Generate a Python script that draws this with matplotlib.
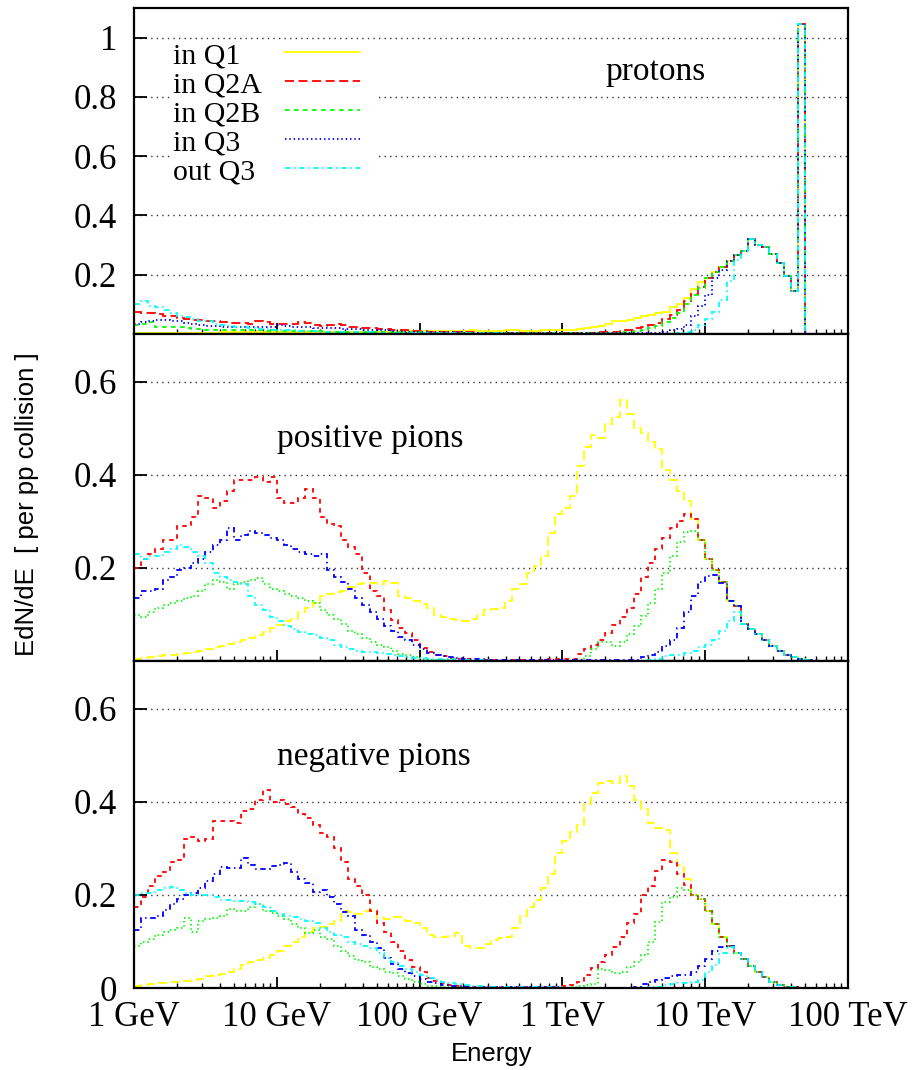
import numpy as np
import matplotlib
matplotlib.use("Agg")
import matplotlib.pyplot as plt
from matplotlib.ticker import FixedLocator, LogLocator, NullFormatter
from matplotlib.patches import Rectangle

plt.rcParams['font.family'] = ['Liberation Serif', 'DejaVu Serif']

# Energy binning: 20 bins per decade from 1 GeV to 100 TeV (values in GeV)
bin_edges = 10 ** (np.arange(101) * 0.05)

series_labels = ['in Q1', 'in Q2A', 'in Q2B', 'in Q3', 'out Q3']
series_colors = ['#ffff00', '#ff0000', '#00ff00', '#0000ff', '#00ffff']

energy_ticks = [1, 10, 100, 1e3, 1e4, 1e5]
energy_labels = ['1 GeV', '10 GeV', '100 GeV', '1 TeV', '10 TeV', '100 TeV']

# ---------------- protons ----------------
# bins 85..93 are shared by all five series (93 = beam energy spike)
protons_tail = [0.280, 0.320, 0.300, 0.295, 0.270, 0.240, 0.195, 0.145, 1.045]

protons_q1 = [
    0.003, 0.003, 0.003, 0.003, 0.003, 0.003, 0.004, 0.004, 0.004, 0.004,
    0.004, 0.004, 0.005, 0.005, 0.005, 0.005, 0.005, 0.005, 0.005, 0.005,
    0.005, 0.005, 0.005, 0.005, 0.006, 0.006, 0.006, 0.006, 0.006, 0.006,
    0.006, 0.007, 0.007, 0.007, 0.007, 0.008, 0.008, 0.009, 0.009, 0.010,
    0.010, 0.010, 0.011, 0.010, 0.011, 0.010, 0.011, 0.012, 0.010, 0.011,
    0.010, 0.011, 0.012, 0.013, 0.010, 0.011, 0.010, 0.012, 0.012, 0.013,
    0.013, 0.014, 0.016, 0.020, 0.022, 0.028, 0.035, 0.042, 0.045, 0.048,
    0.055, 0.060, 0.065, 0.070, 0.075, 0.090, 0.100, 0.120, 0.150, 0.175,
    0.190, 0.210, 0.225, 0.245, 0.265] + protons_tail
protons_q2a = [
    0.075, 0.072, 0.070, 0.066, 0.062, 0.060, 0.055, 0.052, 0.048, 0.046,
    0.044, 0.042, 0.040, 0.037, 0.036, 0.038, 0.035, 0.042, 0.040, 0.034,
    0.033, 0.035, 0.033, 0.040, 0.036, 0.030, 0.028, 0.030, 0.032, 0.030,
    0.022, 0.022, 0.020, 0.020, 0.018, 0.016, 0.015, 0.014, 0.012, 0.010,
    0.010, 0.008, 0.008, 0.007, 0.006, 0.005, 0.005, 0.005, 0.004, 0.004,
    0.004, 0.004, 0.004, 0.004, 0.003, 0.003, 0.003, 0.003, 0.003, 0.003,
    0.003, 0.003, 0.003, 0.003, 0.004, 0.005, 0.007, 0.008, 0.012, 0.015,
    0.020, 0.025, 0.030, 0.038, 0.050, 0.065, 0.080, 0.110, 0.135, 0.160,
    0.190, 0.210, 0.225, 0.245, 0.265] + protons_tail
protons_q2b = [
    0.030, 0.035, 0.040, 0.025, 0.022, 0.025, 0.024, 0.020, 0.018, 0.016,
    0.014, 0.013, 0.014, 0.013, 0.012, 0.013, 0.012, 0.012, 0.011, 0.012,
    0.011, 0.010, 0.010, 0.010, 0.009, 0.009, 0.009, 0.008, 0.008, 0.008,
    0.008, 0.007, 0.007, 0.007, 0.006, 0.006, 0.006, 0.006, 0.005, 0.005,
    0.005, 0.004, 0.004, 0.004, 0.004, 0.003, 0.003, 0.003, 0.003, 0.003,
    0.003, 0.002, 0.002, 0.002, 0.002, 0.002, 0.002, 0.002, 0.002, 0.002,
    0.002, 0.002, 0.002, 0.002, 0.002, 0.002, 0.003, 0.004, 0.006, 0.008,
    0.010, 0.015, 0.020, 0.028, 0.040, 0.055, 0.070, 0.100, 0.130, 0.155,
    0.190, 0.210, 0.225, 0.245, 0.265] + protons_tail
protons_q3 = [
    0.035, 0.040, 0.045, 0.046, 0.047, 0.045, 0.042, 0.038, 0.034, 0.030,
    0.028, 0.026, 0.024, 0.022, 0.024, 0.025, 0.023, 0.022, 0.022, 0.025,
    0.030, 0.028, 0.025, 0.024, 0.022, 0.020, 0.020, 0.020, 0.019, 0.018,
    0.016, 0.016, 0.015, 0.014, 0.012, 0.012, 0.011, 0.010, 0.008, 0.007,
    0.006, 0.006, 0.005, 0.005, 0.005, 0.005, 0.004, 0.004, 0.003, 0.003,
    0.003, 0.002, 0.002, 0.002, 0.002, 0.002, 0.002, 0.002, 0.002, 0.002,
    0.002, 0.002, 0.002, 0.002, 0.002, 0.002, 0.002, 0.002, 0.002, 0.002,
    0.002, 0.002, 0.002, 0.004, 0.008, 0.012, 0.018, 0.030, 0.060, 0.095,
    0.130, 0.190, 0.215, 0.245, 0.265] + protons_tail
protons_out_q3 = [
    0.100, 0.110, 0.095, 0.090, 0.080, 0.070, 0.062, 0.058, 0.050, 0.045,
    0.042, 0.035, 0.030, 0.028, 0.025, 0.022, 0.020, 0.018, 0.016, 0.015,
    0.013, 0.012, 0.012, 0.010, 0.010, 0.009, 0.008, 0.007, 0.006, 0.006,
    0.005, 0.005, 0.005, 0.005, 0.004, 0.004, 0.004, 0.004, 0.003, 0.003,
    0.003, 0.003, 0.002, 0.002, 0.002, 0.002, 0.002, 0.002, 0.002, 0.002,
    0.002, 0.001, 0.001, 0.001, 0.001, 0.001, 0.001, 0.001, 0.001, 0.001,
    0.001, 0.001, 0.001, 0.001, 0.001, 0.001, 0.001, 0.001, 0.001, 0.001,
    0.001, 0.001, 0.001, 0.001, 0.001, 0.001, 0.003, 0.006, 0.015, 0.030,
    0.050, 0.075, 0.115, 0.180, 0.250] + protons_tail

# ---------------- positive pions ----------------
# bins 79..94: all series coincide at the highest energies
pos_tail = [0.260, 0.220, 0.195, 0.170, 0.130, 0.118, 0.080, 0.068,
            0.058, 0.045, 0.032, 0.022, 0.014, 0.008, 0.004, 0.002]

pos_q1 = [
    0.004, 0.006, 0.008, 0.010, 0.012, 0.013, 0.016, 0.018, 0.020, 0.022,
    0.025, 0.030, 0.032, 0.036, 0.042, 0.045, 0.050, 0.055, 0.063, 0.070,
    0.077, 0.085, 0.090, 0.105, 0.115, 0.125, 0.140, 0.145, 0.148, 0.150,
    0.160, 0.165, 0.168, 0.167, 0.165, 0.172, 0.168, 0.140, 0.135, 0.128,
    0.122, 0.115, 0.100, 0.095, 0.090, 0.088, 0.086, 0.090, 0.100, 0.110,
    0.112, 0.113, 0.130, 0.155, 0.165, 0.190, 0.205, 0.225, 0.275, 0.315,
    0.330, 0.355, 0.420, 0.460, 0.485, 0.480, 0.510, 0.525, 0.560, 0.530,
    0.500, 0.490, 0.470, 0.455, 0.410, 0.390, 0.365, 0.345, 0.305] + pos_tail
pos_q2a = [
    0.200, 0.220, 0.230, 0.240, 0.260, 0.260, 0.290, 0.290, 0.310, 0.355,
    0.350, 0.330, 0.345, 0.366, 0.390, 0.390, 0.390, 0.395, 0.385, 0.395,
    0.350, 0.340, 0.340, 0.350, 0.370, 0.350, 0.310, 0.295, 0.290, 0.260,
    0.245, 0.230, 0.190, 0.150, 0.140, 0.110, 0.088, 0.070, 0.060, 0.045,
    0.027, 0.020, 0.013, 0.010, 0.007, 0.005, 0.004, 0.004, 0.003, 0.003,
    0.003, 0.002, 0.002, 0.002, 0.002, 0.002, 0.003, 0.003, 0.004, 0.004,
    0.004, 0.005, 0.015, 0.025, 0.035, 0.045, 0.060, 0.078, 0.095, 0.115,
    0.145, 0.180, 0.210, 0.240, 0.265, 0.285, 0.300, 0.315, 0.305] + pos_tail
pos_q2b = [
    0.100, 0.095, 0.105, 0.115, 0.120, 0.125, 0.130, 0.135, 0.140, 0.150,
    0.165, 0.175, 0.170, 0.155, 0.165, 0.170, 0.175, 0.178, 0.165, 0.155,
    0.150, 0.145, 0.140, 0.135, 0.130, 0.125, 0.110, 0.100, 0.090, 0.080,
    0.065, 0.058, 0.050, 0.042, 0.035, 0.030, 0.022, 0.015, 0.012, 0.008,
    0.005, 0.003, 0.002, 0.002, 0.002, 0.001, 0.001, 0.001, 0.001, 0.001,
    0.001, 0.001, 0.001, 0.001, 0.001, 0.001, 0.001, 0.001, 0.001, 0.001,
    0.001, 0.001, 0.003, 0.010, 0.025, 0.040, 0.040, 0.032, 0.040, 0.058,
    0.075, 0.097, 0.125, 0.155, 0.190, 0.225, 0.255, 0.278, 0.280] + pos_tail
pos_q3 = [
    0.135, 0.150, 0.150, 0.155, 0.175, 0.180, 0.195, 0.200, 0.210, 0.220,
    0.235, 0.250, 0.260, 0.285, 0.260, 0.270, 0.280, 0.275, 0.270, 0.265,
    0.260, 0.250, 0.240, 0.235, 0.230, 0.225, 0.230, 0.195, 0.180, 0.170,
    0.155, 0.135, 0.120, 0.105, 0.090, 0.075, 0.065, 0.052, 0.045, 0.035,
    0.025, 0.018, 0.012, 0.010, 0.008, 0.006, 0.005, 0.004, 0.004, 0.003,
    0.003, 0.003, 0.002, 0.002, 0.002, 0.002, 0.002, 0.002, 0.002, 0.002,
    0.002, 0.002, 0.002, 0.002, 0.002, 0.002, 0.002, 0.002, 0.002, 0.002,
    0.003, 0.008, 0.013, 0.020, 0.032, 0.045, 0.072, 0.105, 0.140, 0.170,
    0.183, 0.185, 0.168] + pos_tail[4:]
pos_out_q3 = [
    0.230, 0.220, 0.225, 0.225, 0.235, 0.240, 0.250, 0.245, 0.235, 0.225,
    0.210, 0.190, 0.180, 0.175, 0.170, 0.165, 0.140, 0.120, 0.110, 0.095,
    0.085, 0.075, 0.068, 0.063, 0.058, 0.055, 0.050, 0.045, 0.035, 0.030,
    0.025, 0.022, 0.020, 0.020, 0.018, 0.015, 0.012, 0.010, 0.008, 0.007,
    0.006, 0.005, 0.005, 0.004, 0.004, 0.003, 0.003, 0.002, 0.002, 0.002,
    0.001, 0.001, 0.001, 0.001, 0.001, 0.001, 0.001, 0.001, 0.001, 0.001,
    0.001, 0.001, 0.001, 0.001, 0.001, 0.001, 0.001, 0.001, 0.001, 0.001,
    0.001, 0.001, 0.002, 0.004, 0.010, 0.012, 0.013, 0.018, 0.022, 0.030,
    0.035, 0.045, 0.065, 0.085, 0.105] + pos_tail[6:]

# ---------------- negative pions ----------------
# bins 78..93 shared by all series
neg_tail = [0.200, 0.192, 0.165, 0.138, 0.110, 0.090, 0.075, 0.062,
            0.048, 0.035, 0.024, 0.012, 0.006, 0.003, 0.002, 0.001]

neg_q1 = [
    0.005, 0.006, 0.008, 0.010, 0.010, 0.012, 0.014, 0.015, 0.018, 0.020,
    0.025, 0.028, 0.030, 0.035, 0.040, 0.050, 0.055, 0.060, 0.065, 0.070,
    0.080, 0.090, 0.100, 0.110, 0.120, 0.128, 0.132, 0.138, 0.145, 0.165,
    0.163, 0.160, 0.165, 0.168, 0.150, 0.148, 0.152, 0.153, 0.145, 0.140,
    0.130, 0.115, 0.110, 0.110, 0.112, 0.118, 0.090, 0.087, 0.085, 0.095,
    0.103, 0.107, 0.110, 0.130, 0.155, 0.175, 0.190, 0.215, 0.245, 0.290,
    0.315, 0.335, 0.350, 0.395, 0.420, 0.440, 0.444, 0.440, 0.455, 0.435,
    0.405, 0.385, 0.355, 0.345, 0.340, 0.290, 0.265, 0.235] + neg_tail
neg_q2a = [
    0.175, 0.195, 0.220, 0.240, 0.250, 0.270, 0.275, 0.320, 0.325, 0.315,
    0.320, 0.360, 0.360, 0.360, 0.355, 0.380, 0.385, 0.405, 0.425, 0.400,
    0.405, 0.395, 0.390, 0.375, 0.365, 0.350, 0.333, 0.325, 0.300, 0.270,
    0.235, 0.220, 0.200, 0.165, 0.140, 0.120, 0.100, 0.080, 0.060, 0.045,
    0.035, 0.022, 0.015, 0.010, 0.007, 0.005, 0.004, 0.003, 0.002, 0.002,
    0.002, 0.002, 0.002, 0.002, 0.002, 0.002, 0.002, 0.002, 0.003, 0.003,
    0.005, 0.006, 0.013, 0.028, 0.042, 0.055, 0.072, 0.088, 0.110, 0.140,
    0.160, 0.200, 0.220, 0.252, 0.275, 0.270, 0.245, 0.222] + neg_tail
neg_q2b = [
    0.090, 0.100, 0.105, 0.115, 0.120, 0.125, 0.130, 0.150, 0.120, 0.145,
    0.148, 0.150, 0.155, 0.170, 0.165, 0.165, 0.175, 0.180, 0.165, 0.162,
    0.155, 0.148, 0.138, 0.130, 0.118, 0.125, 0.110, 0.105, 0.090, 0.080,
    0.068, 0.060, 0.055, 0.045, 0.040, 0.035, 0.032, 0.025, 0.020, 0.013,
    0.008, 0.005, 0.004, 0.003, 0.002, 0.002, 0.001, 0.001, 0.001, 0.001,
    0.001, 0.001, 0.001, 0.001, 0.001, 0.001, 0.001, 0.001, 0.001, 0.001,
    0.001, 0.002, 0.004, 0.006, 0.008, 0.040, 0.038, 0.033, 0.035, 0.045,
    0.056, 0.072, 0.100, 0.142, 0.185, 0.195, 0.215, 0.210] + neg_tail
neg_q3 = [
    0.125, 0.150, 0.150, 0.155, 0.168, 0.180, 0.192, 0.200, 0.205, 0.215,
    0.230, 0.245, 0.260, 0.258, 0.258, 0.280, 0.265, 0.255, 0.255, 0.262,
    0.265, 0.268, 0.250, 0.235, 0.225, 0.207, 0.210, 0.195, 0.180, 0.164,
    0.155, 0.125, 0.115, 0.100, 0.085, 0.065, 0.052, 0.040, 0.032, 0.025,
    0.020, 0.014, 0.010, 0.007, 0.005, 0.004, 0.003, 0.003, 0.002, 0.002,
    0.002, 0.002, 0.002, 0.002, 0.002, 0.002, 0.002, 0.002, 0.002, 0.002,
    0.001, 0.001, 0.001, 0.001, 0.001, 0.001, 0.001, 0.001, 0.001, 0.001,
    0.003, 0.008, 0.012, 0.017, 0.022, 0.026, 0.028, 0.029, 0.035, 0.048,
    0.062, 0.080, 0.089, 0.090] + neg_tail[6:]
neg_out_q3 = [
    0.200, 0.205, 0.205, 0.210, 0.215, 0.218, 0.210, 0.205, 0.200, 0.200,
    0.200, 0.195, 0.190, 0.190, 0.188, 0.188, 0.185, 0.180, 0.175, 0.165,
    0.160, 0.155, 0.152, 0.148, 0.145, 0.140, 0.128, 0.120, 0.115, 0.110,
    0.100, 0.095, 0.090, 0.085, 0.075, 0.065, 0.055, 0.048, 0.040, 0.035,
    0.028, 0.022, 0.018, 0.014, 0.010, 0.008, 0.006, 0.005, 0.004, 0.003,
    0.002, 0.002, 0.002, 0.002, 0.002, 0.002, 0.002, 0.002, 0.002, 0.002,
    0.001, 0.001, 0.001, 0.001, 0.001, 0.001, 0.001, 0.001, 0.001, 0.001,
    0.001, 0.001, 0.002, 0.003, 0.006, 0.008, 0.010, 0.011, 0.012, 0.018,
    0.035, 0.050, 0.075, 0.088] + neg_tail[6:]

panels = [
    ('protons', [protons_q1, protons_q2a, protons_q2b, protons_q3, protons_out_q3]),
    ('positive pions', [pos_q1, pos_q2a, pos_q2b, pos_q3, pos_out_q3]),
    ('negative pions', [neg_q1, neg_q2a, neg_q2b, neg_q3, neg_out_q3]),
]

# dash patterns (gnuplot look): first panel starts with a solid line
styles_top = ['-', (0, (5, 2.5)), (0, (2.5, 2.5)), (0, (0.8, 1.6)), (0, (3, 2, 0.8, 2))]
styles_low = [(0, (5, 2.5)), (0, (2.5, 2.5)), (0, (0.8, 1.6)), (0, (3, 2, 0.8, 2)),
              (0, (3, 2, 0.8, 2))]

fig = plt.figure(figsize=(9.13, 10.70), dpi=100)
boxes = [[0.1468, 0.6879, 0.782, 0.3047],
         [0.1468, 0.3822, 0.782, 0.3057],
         [0.1468, 0.0766, 0.782, 0.3057]]
ylims = [(0, 1.10), (0, 0.703), (0, 0.703)]
yticks = [[0.2, 0.4, 0.6, 0.8, 1.0], [0.2, 0.4, 0.6], [0.0, 0.2, 0.4, 0.6]]
yticklabels = [['0.2', '0.4', '0.6', '0.8', '1'], ['0.2', '0.4', '0.6'], ['0', '0.2', '0.4', '0.6']]
title_pos = [(0.66, 0.779), (0.20, 0.655), (0.20, 0.682)]

axes = []
for k, (name, series) in enumerate(panels):
    ax = fig.add_axes(boxes[k])
    axes.append(ax)
    styles = styles_top if k == 0 else styles_low
    for vals, color, ls in zip(series, series_colors, styles):
        counts = np.pad(np.array(vals, dtype=float), (0, 100 - len(vals)))
        ax.stairs(counts, bin_edges, baseline=None, color=color,
                  linestyle=ls, linewidth=1.3)

    ax.set_xscale('log')
    ax.set_xlim(1, 1e5)
    ax.set_ylim(*ylims[k])
    ax.set_axisbelow(True)

    ax.yaxis.set_major_locator(FixedLocator(yticks[k]))
    ax.set_yticklabels(yticklabels[k])
    ax.yaxis.grid(True, linestyle=(0, (1, 3)), color='#333333', linewidth=1.0)

    ax.xaxis.set_major_locator(FixedLocator(energy_ticks))
    ax.xaxis.set_minor_locator(LogLocator(base=10, subs=range(2, 10), numticks=20))
    ax.xaxis.set_minor_formatter(NullFormatter())
    if k == 2:
        ax.set_xticklabels(energy_labels)
    else:
        ax.tick_params(axis='x', labelbottom=False)

    ax.tick_params(axis='both', which='both', direction='in', top=False, right=False)
    ax.tick_params(axis='y', which='major', length=9.5, width=1.3, pad=12, labelsize=25)
    ax.tick_params(axis='x', which='major', length=8, width=1.3, pad=9, labelsize=25)
    ax.tick_params(axis='x', which='minor', length=3.5, width=1.0)
    for sp in ax.spines.values():
        sp.set_linewidth(1.6)

    ax.text(title_pos[k][0], title_pos[k][1], name, transform=ax.transAxes,
            fontsize=24, ha='left', va='baseline')

# legend in the protons panel: label on the left, line sample on the right
ax = axes[0]
ax.add_patch(Rectangle((0.052, 0.46), 0.29, 0.44, transform=ax.transAxes,
                       facecolor='white', edgecolor='none', zorder=0.8))
row_y = [0.866, 0.776, 0.687, 0.598, 0.509]
for label, color, ls, y in zip(series_labels, series_colors, styles_top, row_y):
    ax.text(0.0546, y - 0.036, label, transform=ax.transAxes, fontsize=21.5,
            ha='left', va='baseline', zorder=3)
    ax.plot([0.2115, 0.3165], [y, y], transform=ax.transAxes, color=color,
            linestyle=ls, linewidth=1.3, zorder=3)

fig.text(0.0296, 0.529, 'EdN/dE  [ per pp collision ]', rotation=90,
         ha='center', va='center', fontsize=18.5, family=['Liberation Sans', 'DejaVu Sans'])
fig.text(0.538, 0.0154, 'Energy', ha='center', va='center', fontsize=18.5,
         family=['Liberation Sans', 'DejaVu Sans'])

fig.savefig('out.png', dpi=100)
